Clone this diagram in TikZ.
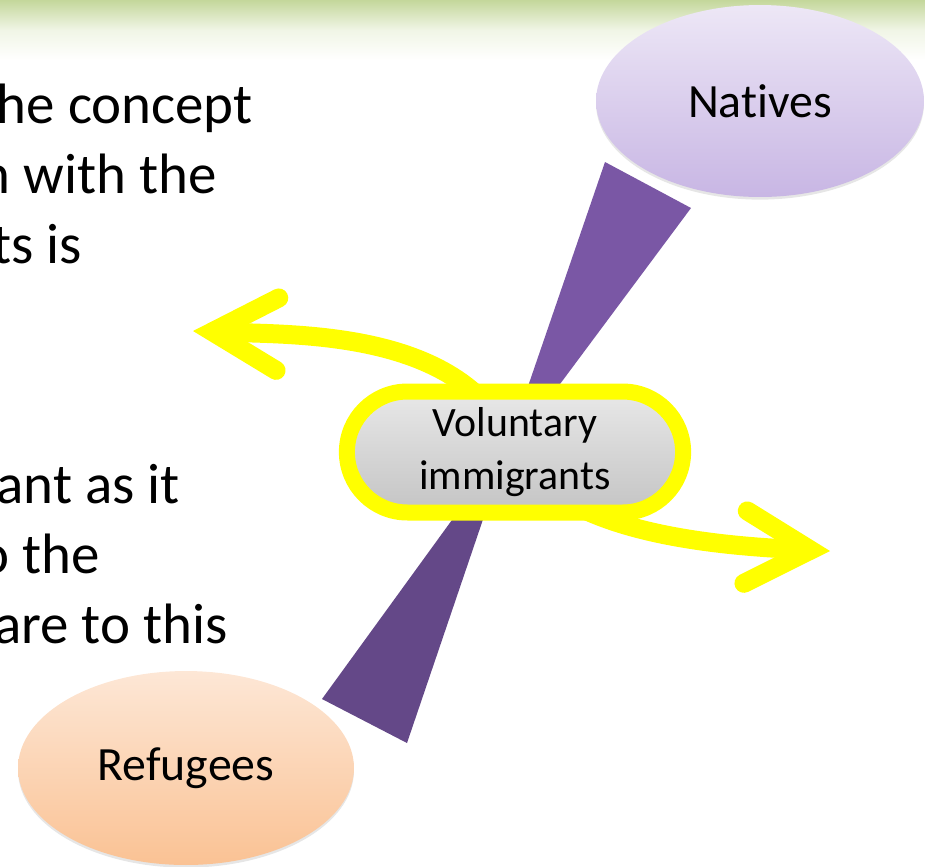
\documentclass[tikz,border=0pt]{standalone}
\usepackage{fontspec}
\setmainfont{Carlito}[Ligatures=CommonOff]
\usepackage{tikz}
\usetikzlibrary{arrows.meta,positioning,shapes.misc,shapes.geometric,shadows,backgrounds}
\definecolor{barc}{RGB}{196,215,155}
\definecolor{natc}{RGB}{237,231,246}
\definecolor{natd}{RGB}{200,182,228}
\definecolor{refc}{RGB}{253,231,214}
\definecolor{refd}{RGB}{250,194,148}
\definecolor{wedgeu}{RGB}{122,87,165}
\definecolor{wedgel}{RGB}{100,72,136}
\definecolor{volc}{RGB}{232,232,232}
\definecolor{vold}{RGB}{196,196,196}
\definecolor{arrc}{RGB}{255,255,0}

\begin{document}
\begin{tikzpicture}[x=0.02cm,y=-0.02cm,
  body/.style={anchor=base east,inner sep=0pt,font=\fontsize{32.4}{38}\selectfont},
  group/.style={ellipse,inner sep=0pt,font=\fontsize{27.2}{32}\selectfont,
    drop shadow={opacity=0.2,shadow xshift=0pt,shadow yshift=-1.5pt}},
  flow/.style={arrc,line width=0.38cm,
    -{Straight Barb[length=1.3cm,width=1.45cm,line width=0.38cm,line cap=round]}}]
  \useasboundingbox (0,0) rectangle (925,866);
  \node[rounded rectangle,draw=arrc,line width=0.32cm,top color=volc,bottom color=vold,
    minimum width=6.96cm,minimum height=2.42cm,align=center,
    font=\fontsize{23.8}{30}\selectfont] (vol) at (515,452) {Voluntary\\immigrants};
  \node[group,top color=natc,bottom color=natd,minimum width=6.56cm,minimum height=3.84cm] (nat) at (760,101) {Natives};
  \node[group,top color=refc,bottom color=refd,minimum width=6.72cm,minimum height=3.88cm] (ref) at (186,768) {Refugees};
  \node[body] (l1) at (253,123) {he concept};
  \node[body] (l2) at (217,193) {n with the};
  \node[body] (l3) at (82,263) {ts is};
  \node[body] (l4) at (180,503) {ant as it};
  \node[body] (l5) at (100,573) {o the};
  \node[body] (l6) at (228,643) {are to this};
  \coordinate (outL) at (193,331);
  \coordinate (outR) at (830,551);
  \begin{pgfonlayer}{background}
    \fill[top color=barc,bottom color=white,middle color=barc!25] (0,0) rectangle (925,60);
    \fill[wedgeu] (605,162) -- (691,208) -- (502,462) -- cycle;
    \fill[wedgel] (322,699) -- (407,743) -- (510,440) -- cycle;
    \draw[flow] (vol.center) .. controls (470,330) and (300,335) .. (outL);
    \draw[flow] (vol.center) .. controls (560,530) and (700,545) .. (outR);
  \end{pgfonlayer}
\end{tikzpicture}
\end{document}
